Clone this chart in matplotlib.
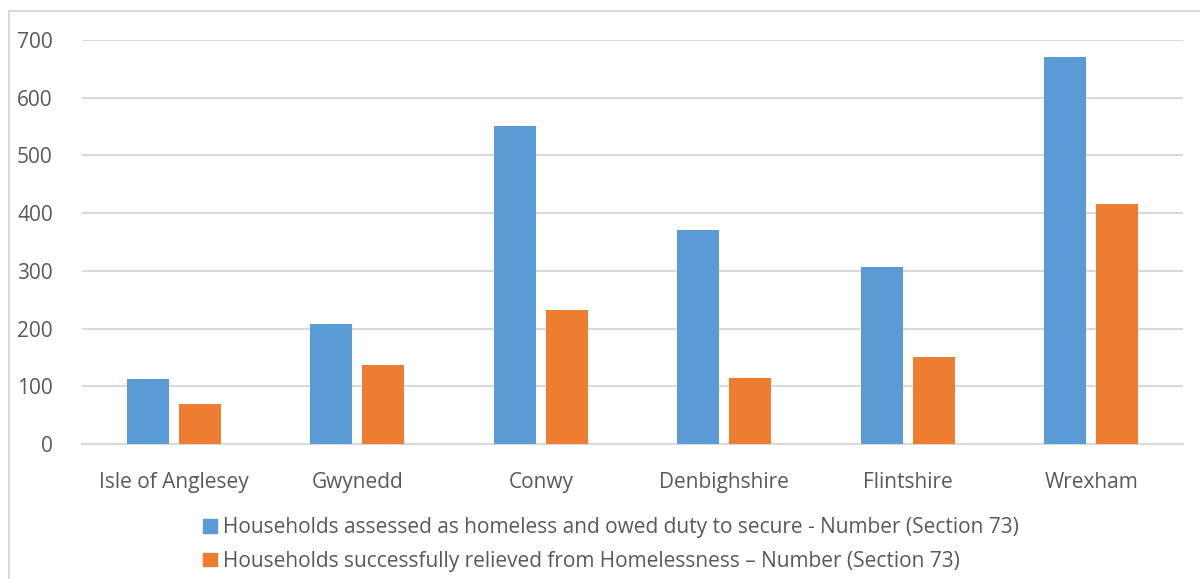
import numpy as np
import matplotlib.pyplot as plt
from matplotlib.patches import Rectangle, Patch

# data
areas = ["Isle of Anglesey", "Gwynedd", "Conwy", "Denbighshire", "Flintshire", "Wrexham"]
assessed = [113, 208, 551, 371, 307, 671]
relieved = [69, 137, 232, 114, 151, 416]
label_assessed = "Households assessed as homeless and owed duty to secure - Number (Section 73)"
label_relieved = "Households successfully relieved from Homelessness \u2013 Number (Section 73)"

color_blue = "#5b9bd5"
color_orange = "#ed7d31"
color_text = "#595959"
color_grid = "#d9d9d9"

plt.rcParams['font.family'] = ['Open Sans', 'DejaVu Sans']

fig = plt.figure(figsize=(12, 5.79), dpi=100)
# chart border
fig.patches.append(Rectangle((9 / 1200, -0.1), 1.2, 1 - 11 / 579 + 0.1, transform=fig.transFigure,
                             fill=False, edgecolor=color_grid, linewidth=1.5))

ax = fig.add_axes([82 / 1200, 1 - 444 / 579, 1101 / 1200, 404 / 579])
x = np.arange(len(areas))
w = 0.229
off = 0.141
ax.bar(x - off, assessed, w, color=color_blue, zorder=3)
ax.bar(x + off, relieved, w, color=color_orange, zorder=3)

ax.set_xlim(-0.5, len(areas) - 0.5)
ax.set_ylim(0, 700)
ax.set_yticks(np.arange(0, 701, 100))
ax.yaxis.grid(True, color=color_grid, linewidth=1.5, zorder=0)
ax.set_xticks(x)
ax.set_xticklabels(areas)
ax.tick_params(axis='both', length=0, labelsize=15, colors=color_text)
ax.tick_params(axis='x', pad=20)
ax.tick_params(axis='y', pad=21)
for s in ["top", "right", "left"]:
    ax.spines[s].set_visible(False)
ax.spines["bottom"].set_color(color_grid)
ax.spines["bottom"].set_linewidth(1.5)

handles = [Patch(color=color_blue, label=label_assessed), Patch(color=color_orange, label=label_relieved)]
fig.legend(handles=handles, loc="upper left", bbox_to_anchor=(195 / 1200, 1 - 509 / 579),
           frameon=False, fontsize=15, labelcolor=color_text, handlelength=0.65, handleheight=0.65,
           handletextpad=0.3, labelspacing=0.6, borderaxespad=0)

fig.savefig("out.png", dpi=100)
